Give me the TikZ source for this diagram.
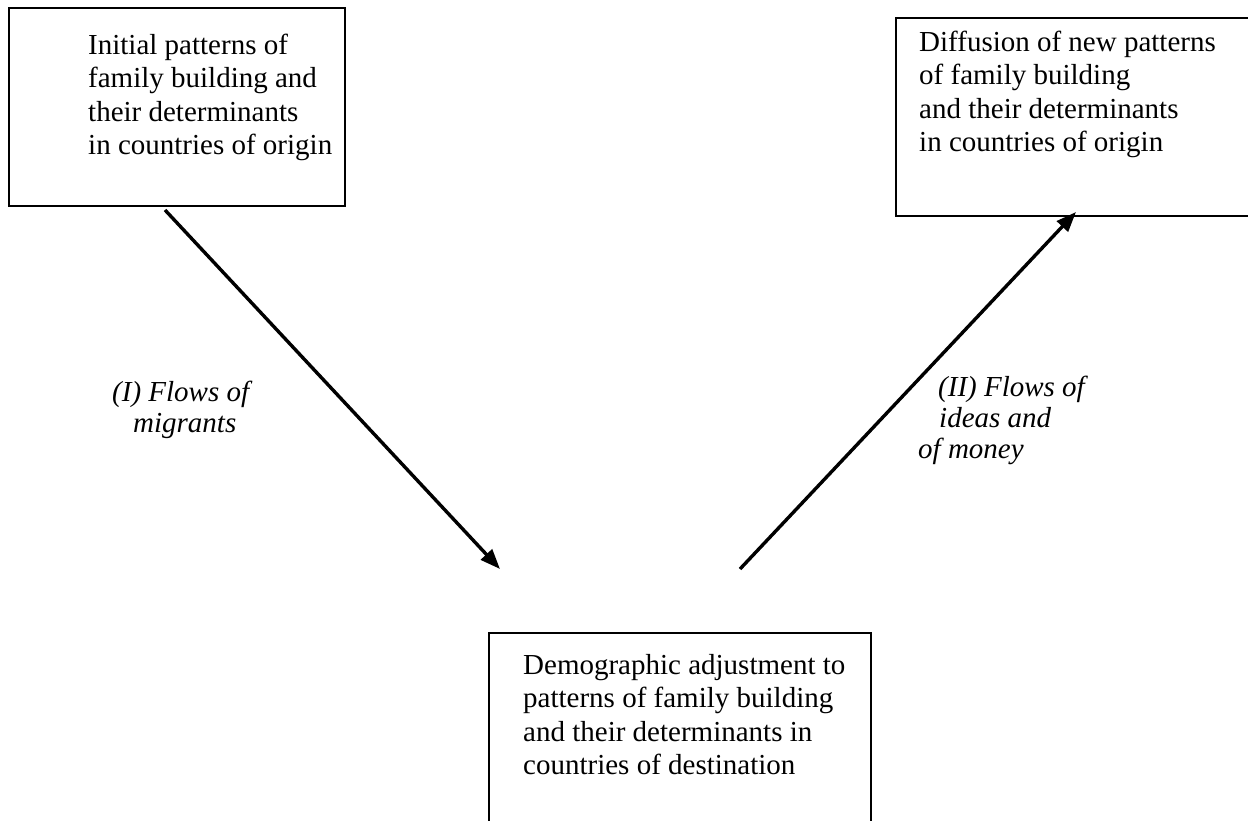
\documentclass[tikz,border=0pt]{standalone}
\usepackage{fontspec}
\setmainfont{Liberation Serif}
\usetikzlibrary{arrows.meta}
\begin{document}
\begin{tikzpicture}[x=1pt,y=-1pt,
  box/.style={draw, line width=1.8pt, inner sep=0pt, anchor=north west},
  btext/.style={anchor=north west, inner sep=0pt, align=left, font=\fontsize{29}{33.5}\selectfont},
  ltext/.style={anchor=north west, inner sep=0pt, align=left, font=\fontsize{29}{31}\selectfont\itshape},
  flow/.style={line width=3.4pt, -{Triangle[length=20pt,width=15pt]}}]
\useasboundingbox (0,0) rectangle (1248,821);
\clip (0,0) rectangle (1248,821);
\fill[white] (0,0) rectangle (1248,821);
% boxes
\node[box, minimum width=336pt, minimum height=198pt] (b1) at (8,7) {};
\node[box, minimum width=365pt, minimum height=198pt] (b2) at (895,17) {};
\node[box, minimum width=382pt, minimum height=230pt] (b3) at (488,632) {};
% box texts
\node[btext] (t1) at (88,33) {\rule{0pt}{21pt}Initial patterns of\\family building and\\their determinants\\in countries of origin};
\node[btext] (t2) at (919,30) {\rule{0pt}{21pt}Diffusion of new patterns\\of family building\\and their determinants\\in countries of origin};
\node[btext] (t3) at (523,653) {\rule{0pt}{21pt}Demographic adjustment to\\patterns of family building\\and their determinants in\\countries of destination};
% labels
\node[ltext] (l1) at (112,380) {\rule{0pt}{21pt}(I) Flows of\\\hspace*{21pt}migrants};
\node[ltext] (l2) at (918,375) {\rule{0pt}{21pt}\hspace*{20pt}(II) Flows of\\\hspace*{21pt}ideas and\\of money};
% connectors
\coordinate (a1s) at (165,210);
\coordinate (a1e) at (500,569);
\coordinate (a2s) at (740,569);
\coordinate (a2e) at (1076,212);
\draw[flow] (a1s) -- (a1e);
\draw[flow] (a2s) -- (a2e);
\end{tikzpicture}
\end{document}
